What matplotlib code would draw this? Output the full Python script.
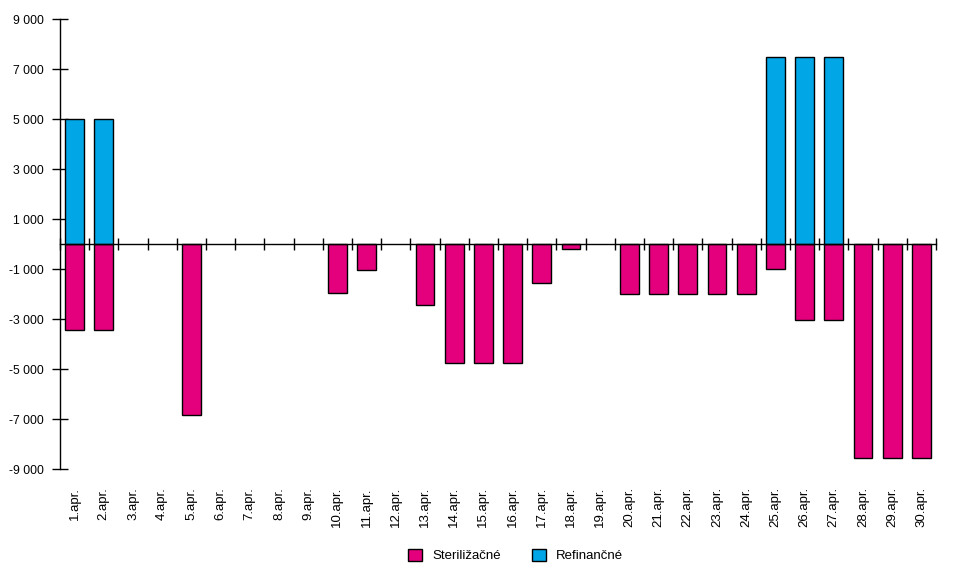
import matplotlib.pyplot as plt
import numpy as np
from matplotlib.patches import Patch

plt.rcParams['font.family'] = ['Liberation Sans', 'DejaVu Sans']

# Data (mil. Sk)
days = [f"{d}.apr." for d in range(1, 31)]
sterilizacne = [-3450, -3450, 0, 0, -6850, 0, 0, 0, 0, -1950,
                -1050, 0, -2450, -4750, -4750, -4750, -1550, -180, 0, -2000,
                -2000, -2000, -2000, -2000, -1000, -3050, -3050, -8550, -8550, -8550]
refinancne = [5000, 5000, 0, 0, 0, 0, 0, 0, 0, 0,
              0, 0, 0, 0, 0, 0, 0, 0, 0, 0,
              0, 0, 0, 0, 7500, 7500, 7500, 0, 0, 0]
yticks = list(range(-9000, 9001, 2000))

pink = '#e4007c'
blue = '#00a6e6'

fig = plt.figure(figsize=(9.77, 5.85), dpi=100)
ax = fig.add_axes([0.0614, 0.198, 0.8966, 0.7695])

x = np.arange(len(days))
w = 0.64
# zero means no operation that day -> no bar
s_vals = np.where(np.array(sterilizacne) == 0, np.nan, sterilizacne)
r_vals = np.where(np.array(refinancne) == 0, np.nan, refinancne)
ax.bar(x, s_vals, w, color=pink, edgecolor='black', linewidth=1, zorder=2)
ax.bar(x, r_vals, w, color=blue, edgecolor='black', linewidth=1, zorder=2)

# zero line with category boundary ticks
bounds = np.arange(len(days) + 1) - 0.5
ax.plot(bounds, np.zeros(len(bounds)), color='black', lw=1, marker='|',
        ms=9, mew=1, zorder=3, clip_on=False)

ax.set_xlim(-0.5, len(days) - 0.5)
ax.set_ylim(-9000, 9000)
ax.set_yticks(yticks)
ax.set_yticklabels([f"{v:,}".replace(',', ' ') for v in yticks], fontsize=8.8)
ax.tick_params(axis='y', direction='inout', length=11, width=1, pad=6)

ax.set_xticks(x)
ax.set_xticklabels(days, rotation=90, fontsize=9.5)
ax.tick_params(axis='x', length=0, pad=13)

for s in ['top', 'right', 'bottom']:
    ax.spines[s].set_visible(False)
ax.spines['left'].set_linewidth(1)

handles = [Patch(facecolor=pink, edgecolor='black', label='Steriližačné'),
           Patch(facecolor=blue, edgecolor='black', label='Refinančné')]
fig.legend(handles=handles, loc='center', bbox_to_anchor=(0.528, 0.05), ncol=2,
           frameon=False, fontsize=9.5, handlelength=1.0, handleheight=1.0,
           handletextpad=0.8, columnspacing=2.4)

fig.savefig('out.png', dpi=100)
